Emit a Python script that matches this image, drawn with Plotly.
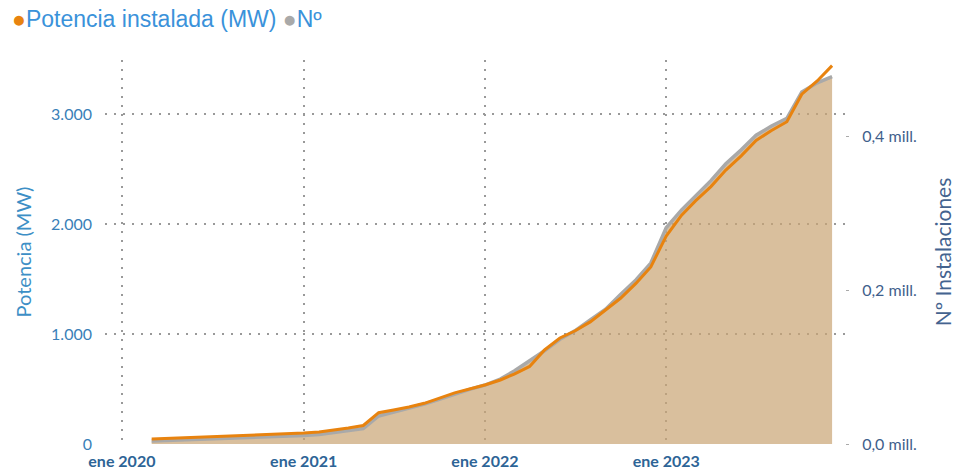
import plotly.graph_objects as go
import pandas as pd

# Monthly data, Mar 2020 - Dec 2023
months = pd.date_range("2020-03-01", "2023-12-01", freq="MS").strftime("%Y-%m-%d").tolist()

potencia_mw = [45, 50, 55, 60, 65, 70, 75, 82, 88, 93,
               100, 110, 125, 145, 168, 285, 310, 336, 370, 415, 465, 500,
               536, 582, 636, 705, 855, 964, 1027, 1110, 1220, 1325, 1460, 1610,
               1890, 2080, 2210, 2340, 2490, 2620, 2760, 2850, 2930, 3180, 3300, 3440]

instalaciones = [3900, 4500, 5100, 5800, 6400, 7000, 7700, 8400, 9100, 9700,
                 11000, 12300, 14900, 17500, 20000, 36400, 41600, 46000, 52000, 58000, 65000, 71000,
                 76600, 84400, 94800, 108000, 121000, 136000, 147000, 161000, 175000, 194000, 213000, 235000,
                 281000, 304000, 322000, 342000, 364000, 382000, 401000, 413000, 423000, 457000, 469000, 477000]

x_tickvals = ["2020-01-01", "2021-01-01", "2022-01-01", "2023-01-01"]
x_ticktext = ["ene 2020", "ene 2021", "ene 2022", "ene 2023"]
mw_tickvals = [0, 1000, 2000, 3000]
n_tickvals = [0, 200000, 400000]
n_ticktext = ["0,0 mill.", "0,2 mill.", "0,4 mill."]

ORANGE = "#E8830F"
GREY = "#A9A9A9"
FILL = "rgba(201,164,116,0.7)"
GRID = "#999999"

fig = go.Figure()
# Nº instalaciones on the main (right-side) axis, drawn underneath
fig.add_trace(go.Scatter(x=months, y=instalaciones, yaxis="y", mode="lines",
                         line=dict(width=0, color=FILL), fill="tozeroy",
                         fillcolor=FILL, hoverinfo="skip", showlegend=False))
fig.add_trace(go.Scatter(x=months, y=instalaciones, yaxis="y", mode="lines",
                         line=dict(width=3.5, color=GREY), name="Nº", showlegend=False))
# Potencia on the overlaying (left-side) axis, drawn on top
fig.add_trace(go.Scatter(x=months, y=potencia_mw, yaxis="y2", mode="lines",
                         line=dict(width=3, color=ORANGE), name="Potencia instalada (MW)",
                         showlegend=False))

fig.update_layout(
    width=955, height=471,
    margin=dict(l=105, r=110, t=60, b=27),
    plot_bgcolor="white", paper_bgcolor="white",
    separators=",.",
    showlegend=False,
    xaxis=dict(
        type="date", automargin=False,
        range=["2019-11-28", "2023-12-27"],
        tickvals=x_tickvals, ticktext=x_ticktext,
        showgrid=True, gridcolor=GRID, griddash="2px,7px", gridwidth=1.8,
        zeroline=False, showline=False, ticks="",
        ticklabelstandoff=6,
        tickfont=dict(family="Lato", size=16, color="#2D6496", weight="bold"),
    ),
    yaxis=dict(
        side="right", automargin=False,
        range=[0, 498700],
        tickvals=n_tickvals, ticktext=n_ticktext,
        showgrid=False, zeroline=False, showline=False,
        ticks="outside", ticklen=3, tickcolor="#AAAAAA",
        ticklabelstandoff=10,
        tickfont=dict(family="Lato", size=16, color="#3F5F8C"),
        title=dict(text="Nº Instalaciones", font=dict(family="Lato", size=21, color="#44638F"), standoff=25),
    ),
    yaxis2=dict(
        overlaying="y", side="left", automargin=False,
        range=[0, 3491],
        tickvals=mw_tickvals, tickformat=",d",
        showgrid=True, gridcolor=GRID, griddash="2px,7px", gridwidth=1.8,
        zeroline=False, showline=False, ticks="",
        ticklabelstandoff=12,
        tickfont=dict(family="Lato", size=16, color="#3A7FB8"),
        title=dict(text="Potencia (MW)", font=dict(family="Lato", size=20, color="#3D8FC6"), standoff=14),
    ),
    annotations=[dict(
        xref="paper", yref="paper", x=-0.129, y=1.107, xanchor="left", yanchor="middle",
        showarrow=False, align="left",
        text=f"<span style='color:{ORANGE}'>●</span>Potencia instalada (MW)&nbsp;<span style='color:{GREY}'>●</span>Nº",
        font=dict(family="Liberation Sans", size=23, color="#3A92DA"),
    )],
)

fig.write_html("out.html")
